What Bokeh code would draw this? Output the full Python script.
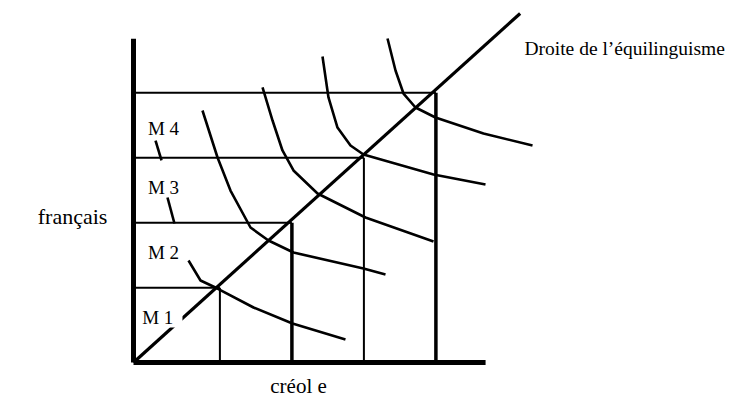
from bokeh.plotting import figure
from bokeh.models import Range1d
from bokeh.embed import file_html
from bokeh.resources import INLINE
from bokeh.core.properties import value

# ---- data (units: créole on x, français on y) ----
x_levels = [1.2, 2.2, 3.2, 4.2]
y_levels = [1.15, 2.15, 3.15, 4.15]
labels = ["M 1", "M 2", "M 3", "M 4"]
axis_x_max = 4.89
axis_y_max = 4.98
diag_end = 5.37

c1_x = [0.764, 0.931, 1.167, 1.667, 2.208, 2.944]
c1_y = [1.569, 1.262, 1.138, 0.846, 0.600, 0.354]
c2_x = [0.958, 1.167, 1.347, 1.625, 1.875, 2.222, 3.194, 3.5]
c2_y = [3.877, 3.154, 2.646, 2.077, 1.877, 1.692, 1.446, 1.354]
c3_x = [1.792, 1.931, 2.069, 2.222, 2.556, 3.222, 4.167]
c3_y = [4.231, 3.723, 3.262, 2.954, 2.600, 2.231, 1.862]
c4_x = [2.625, 2.708, 2.833, 3.014, 3.194, 4.167, 4.889]
c4_y = [4.708, 4.077, 3.615, 3.338, 3.200, 2.892, 2.738]
c5_x = [3.528, 3.639, 3.750, 3.917, 4.194, 4.861, 5.542]
c5_y = [4.985, 4.492, 4.138, 3.923, 3.769, 3.523, 3.338]
sA_x = [0.306, 0.389]
sA_y = [3.415, 3.108]
sB_x = [0.472, 0.569]
sB_y = [2.538, 2.138]

title_diag = "Droite de l’équilinguisme"
x_label = "créol e"
y_label = "français"

FONT = value("Liberation Serif")

p = figure(width=733, height=400, output_backend="svg", toolbar_location=None,
           x_range=Range1d(-1.8472, 8.3333), y_range=Range1d(-0.5846, 5.5692),
           min_border=0)
p.axis.visible = False
p.grid.visible = False
p.outline_line_color = None
p.background_fill_color = "white"

# grid lines from levels
h_w = [2, 2, 2, 2]
v_w = [2, 3.5, 2, 3.5]
for i in range(4):
    p.line([0, x_levels[i]], [y_levels[i], y_levels[i]], line_color="black", line_width=h_w[i])
    p.line([x_levels[i], x_levels[i]], [0, y_levels[i]], line_color="black", line_width=v_w[i])

# diagonal
p.line([0, diag_end], [0, diag_end], line_color="black", line_width=3.2)

# curves
for cx, cy in [(c1_x, c1_y), (c2_x, c2_y), (c3_x, c3_y), (c4_x, c4_y), (c5_x, c5_y), (sA_x, sA_y), (sB_x, sB_y)]:
    p.line(cx, cy, line_color="black", line_width=2.6, line_join="round")

# axes
p.line([0, 0], [0, axis_y_max], line_color="black", line_width=5)
p.line([0, axis_x_max], [0, 0], line_color="black", line_width=5)

# white box behind M1
p.quad(left=[0.04], right=[0.68], bottom=[0.54], top=[1.105], fill_color="white", line_color=None)

# labels
lab_x = [0.12, 0.2, 0.2, 0.2]
lab_y = [0.70, 1.69, 2.69, 3.6]
p.text(x=lab_x, y=lab_y, text=labels, text_font=FONT, text_font_size="19px",
       text_baseline="alphabetic", text_color="black")

p.text(x=[5.43], y=[4.83], text=[title_diag], text_font=FONT, text_font_size="19.5px",
       text_baseline="alphabetic", text_color="black")
p.text(x=[-1.33], y=[2.25], text=[y_label], text_font=FONT, text_font_size="22px",
       text_baseline="alphabetic", text_color="black")
p.text(x=[1.9], y=[-0.36], text=[x_label], text_font=FONT, text_font_size="21px",
       text_baseline="alphabetic", text_color="black")

open("out.html", "w").write(file_html(p, INLINE))
